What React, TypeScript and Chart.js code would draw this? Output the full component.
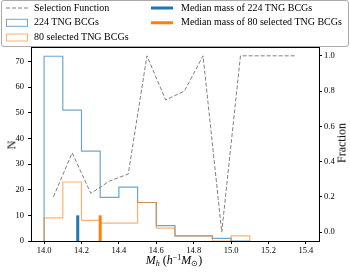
import React, { useEffect, useRef } from "react";
import { Chart, registerables } from "chart.js";
Chart.register(...registerables);

// ---- data ----
const binEdges = [14.0, 14.1, 14.2, 14.3, 14.4, 14.5, 14.6, 14.7, 14.8, 14.9, 15.0, 15.1];
const allCounts = [72, 51, 35, 17, 21, 15, 6, 2, 2, 1, 0];
const selectedCounts = [9, 23, 8, 7, 7, 15, 5, 2, 2, 0, 2];
const fractionX = [14.05, 14.15, 14.25, 14.35, 14.45, 14.55, 14.65, 14.75, 14.85, 14.95, 15.05, 15.15, 15.25, 15.35];
const fractionY = [0.2, 0.45, 0.22, 0.29, 0.33, 1.0, 0.75, 0.8, 1.0, 0.0, 1.0, 1.0, 1.0, 1.0];
const medianAll = 14.18;
const medianSelected = 14.3;
const medianBarHeight = 10;
const legendLabels = [
  "Selection Function",
  "224 TNG BCGs",
  "80 selected TNG BCGs",
  "Median mass of 224 TNG BCGs",
  "Median mass of 80 selected TNG BCGs",
];

const SERIF = "'Liberation Serif', 'Times New Roman', serif";
const BLUE = "#1f77b4";
const ORANGE = "#ff7f0e";
const BLUE_H = "rgba(31,119,180,0.65)";
const ORANGE_H = "rgba(255,127,14,0.6)";
const GREY = "#808080";

function stepPoints(edges: number[], counts: number[]) {
  const pts: { x: number; y: number }[] = [{ x: edges[0], y: 0 }];
  counts.forEach((c, i) => pts.push({ x: edges[i], y: c }));
  pts.push({ x: edges[counts.length], y: 0 });
  return pts;
}

const topSpine = {
  id: "topSpine",
  afterDraw(chart: any) {
    const { ctx, chartArea } = chart;
    ctx.save();
    ctx.strokeStyle = "#000";
    ctx.lineWidth = 1;
    ctx.beginPath();
    ctx.moveTo(chartArea.left, chartArea.top + 0.5);
    ctx.lineTo(chartArea.right, chartArea.top + 0.5);
    ctx.stroke();
    ctx.restore();
  },
};

export default function App() {
  const ref = useRef<HTMLCanvasElement>(null);
  useEffect(() => {
    document.body.style.margin = "0";
    const tickFont = { family: SERIF, size: 8.5 };
    const chart = new Chart(ref.current!, {
      type: "line",
      data: {
        datasets: [
          {
            label: legendLabels[0],
            data: fractionX.map((x, i) => ({ x, y: fractionY[i] })),
            yAxisID: "y1",
            borderColor: GREY,
            borderWidth: 1,
            borderDash: [4, 2],
            pointRadius: 0,
            fill: false,
            order: 0,
          },
          {
            label: legendLabels[1],
            data: stepPoints(binEdges, allCounts),
            yAxisID: "y",
            borderColor: BLUE_H,
            borderWidth: 1.2,
            stepped: "before",
            pointRadius: 0,
            fill: false,
            order: 3,
          },
          {
            label: legendLabels[2],
            data: stepPoints(binEdges, selectedCounts),
            yAxisID: "y",
            borderColor: ORANGE_H,
            borderWidth: 1.2,
            stepped: "before",
            pointRadius: 0,
            fill: false,
            order: 2,
          },
          {
            label: legendLabels[3],
            data: [
              { x: medianAll, y: 0 },
              { x: medianAll, y: medianBarHeight },
            ],
            yAxisID: "y",
            borderColor: BLUE,
            borderWidth: 3,
            borderCapStyle: "butt",
            pointRadius: 0,
            order: 1,
          },
          {
            label: legendLabels[4],
            data: [
              { x: medianSelected, y: 0 },
              { x: medianSelected, y: medianBarHeight },
            ],
            yAxisID: "y",
            borderColor: ORANGE,
            borderWidth: 3,
            borderCapStyle: "butt",
            pointRadius: 0,
            order: 1,
          },
        ],
      } as any,
      options: {
        animation: false,
        responsive: false,
        layout: { padding: { top: 47, left: 0, right: 0, bottom: 0 } },
        plugins: { legend: { display: false }, tooltip: { enabled: false } },
        scales: {
          x: {
            type: "linear",
            min: 13.93,
            max: 15.47,
            grid: { drawOnChartArea: false, drawTicks: true, tickLength: 3, color: "#000" },
            border: { display: true, color: "#000" },
            ticks: {
              stepSize: 0.2,
              includeBounds: false,
              autoSkip: false,
              maxRotation: 0,
              padding: 2,
              color: "#000",
              font: tickFont,
              callback: (v: any) => Number(v).toFixed(1),
            },
            afterFit: (s: any) => {
              s.height = 31;
            },
          },
          y: {
            type: "linear",
            position: "left",
            min: 0,
            max: 75.6,
            grid: { drawOnChartArea: false, drawTicks: true, tickLength: 3, color: "#000" },
            border: { display: true, color: "#000" },
            ticks: {
              stepSize: 10,
              includeBounds: false,
              padding: 4,
              color: "#000",
              font: tickFont,
            },
            afterFit: (s: any) => {
              s.width = 31;
            },
          },
          y1: {
            type: "linear",
            position: "right",
            min: -0.05,
            max: 1.05,
            grid: { drawOnChartArea: false, drawTicks: true, tickLength: 3, color: "#000" },
            border: { display: true, color: "#000" },
            ticks: {
              stepSize: 0.2,
              includeBounds: false,
              padding: 2,
              color: "#000",
              font: tickFont,
              callback: (v: any) => Number(v).toFixed(1),
            },
            afterFit: (s: any) => {
              s.width = 31;
            },
          },
        },
      } as any,
      plugins: [topSpine],
    });
    return () => chart.destroy();
  }, []);

  const rowY = [7.5, 22.3, 37];
  const textStyle: React.CSSProperties = {
    position: "absolute",
    fontFamily: SERIF,
    fontSize: 10,
    lineHeight: "14px",
    whiteSpace: "nowrap",
    color: "#000",
  };

  return (
    <div style={{ position: "relative", width: 350, height: 272, fontFamily: SERIF }}>
      <canvas ref={ref} width={350} height={272} style={{ display: "block" }} />
      {/* legend */}
      <div
        style={{
          position: "absolute",
          left: 1,
          top: 0,
          width: 346,
          height: 45,
          border: "1px solid #aaa",
          borderRadius: 3,
          background: "#fff",
          overflow: "hidden",
        }}
      >
        <svg width={346} height={45} style={{ position: "absolute", left: 0, top: 0 }}>
          <line x1={4} x2={26} y1={rowY[0] - 0.5} y2={rowY[0] - 0.5} stroke={GREY} strokeWidth={1} strokeDasharray="4 2" />
          <rect x={4.5} y={rowY[1] - 4} width={21} height={7} fill="#fff" stroke={BLUE_H} strokeWidth={1} />
          <rect x={4.5} y={rowY[2] - 4} width={21} height={7} fill="#fff" stroke={ORANGE_H} strokeWidth={1} />
          <line x1={149} x2={171} y1={rowY[0] - 0.5} y2={rowY[0] - 0.5} stroke={BLUE} strokeWidth={3} />
          <line x1={149} x2={171} y1={rowY[1] - 0.5} y2={rowY[1] - 0.5} stroke={ORANGE} strokeWidth={3} />
        </svg>
        <div style={{ ...textStyle, left: 32, top: rowY[0] - 8 }}>{legendLabels[0]}</div>
        <div style={{ ...textStyle, left: 32, top: rowY[1] - 8 }}>{legendLabels[1]}</div>
        <div style={{ ...textStyle, left: 32, top: rowY[2] - 8 }}>{legendLabels[2]}</div>
        <div style={{ ...textStyle, left: 179, top: rowY[0] - 8 }}>{legendLabels[3]}</div>
        <div style={{ ...textStyle, left: 179, top: rowY[1] - 8 }}>{legendLabels[4]}</div>
      </div>
      {/* axis titles */}
      <div
        style={{
          position: "absolute",
          left: 11.5,
          top: 145,
          transform: "translate(-50%, -50%) rotate(-90deg)",
          fontFamily: SERIF,
          fontSize: 12,
          whiteSpace: "nowrap",
        }}
      >
        N
      </div>
      <div
        style={{
          position: "absolute",
          left: 341.5,
          top: 143,
          transform: "translate(-50%, -50%) rotate(-90deg)",
          fontFamily: SERIF,
          fontSize: 12,
          whiteSpace: "nowrap",
        }}
      >
        Fraction
      </div>
      <div
        style={{
          position: "absolute",
          left: 174,
          top: 261,
          transform: "translate(-50%, -50%)",
          fontFamily: SERIF,
          fontSize: 12,
          whiteSpace: "nowrap",
          lineHeight: "14px",
        }}
      >
        <i>M</i>
        <sub style={{ fontSize: 8, verticalAlign: "-2px" }}>
          <i>h</i>
        </sub>
        <span> (</span>
        <i>h</i>
        <sup style={{ fontSize: 8, verticalAlign: "4px" }}>−1</sup>
        <i>M</i>
        <sub style={{ fontSize: 8, verticalAlign: "-2px" }}>⊙</sub>
        <span>)</span>
      </div>
    </div>
  );
}
